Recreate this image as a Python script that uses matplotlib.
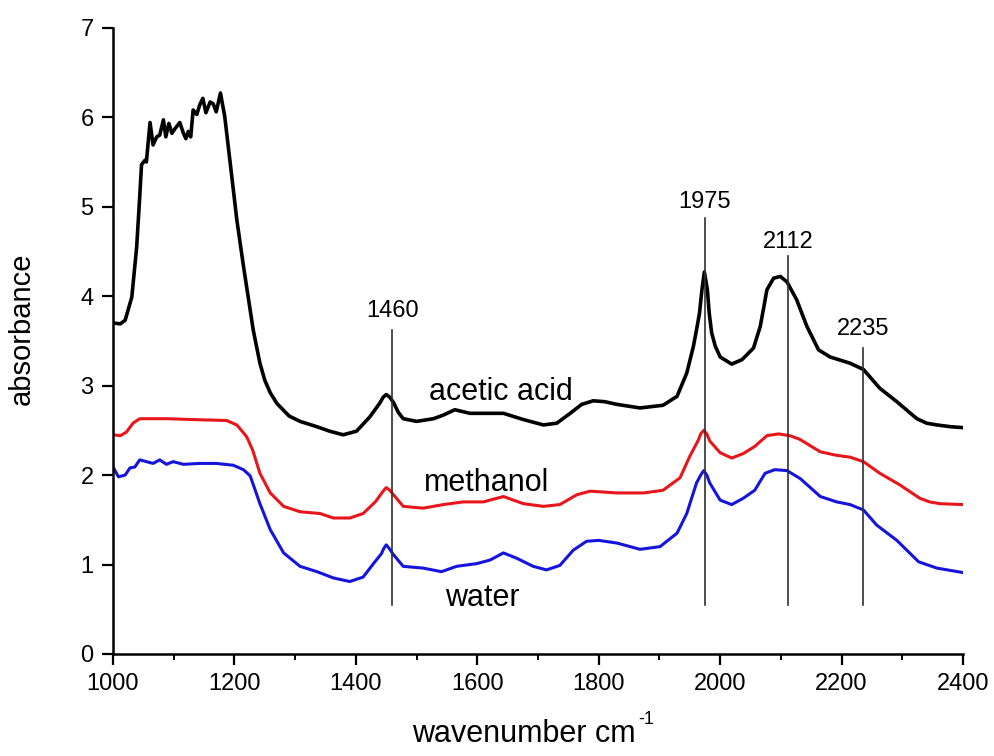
import matplotlib
matplotlib.use("Agg")
import matplotlib.pyplot as plt
from matplotlib.ticker import MultipleLocator

plt.rcParams['font.family'] = ['Liberation Sans', 'DejaVu Sans']

# IR spectra (wavenumber in cm^-1, absorbance)
acetic_wn = [1000, 1012, 1020, 1031, 1039, 1044, 1047, 1053, 1055, 1061, 1066, 1072, 1077,
             1083, 1087, 1092, 1097, 1102, 1110, 1116, 1120, 1124, 1128, 1132, 1138, 1143,
             1148, 1153, 1160, 1165, 1170, 1177, 1184, 1193, 1204, 1215, 1231, 1242, 1250,
             1259, 1270, 1280, 1290, 1308, 1336, 1357, 1379, 1401, 1423, 1440, 1445, 1450,
             1456, 1462, 1470, 1478, 1500, 1528, 1544, 1563, 1588, 1621, 1643, 1676, 1709,
             1731, 1753, 1772, 1791, 1810, 1830, 1868, 1906, 1929, 1945, 1956, 1961, 1966,
             1970, 1974, 1979, 1982, 1986, 1992, 2000, 2019, 2036, 2055, 2066, 2072, 2077,
             2088, 2099, 2110, 2126, 2143, 2162, 2181, 2214, 2236, 2263, 2291, 2324, 2340,
             2357, 2380, 2400]
acetic_abs = [3.70, 3.69, 3.73, 3.99, 4.55, 5.11, 5.47, 5.52, 5.50, 5.94, 5.69, 5.78, 5.80,
              5.97, 5.78, 5.93, 5.82, 5.87, 5.94, 5.82, 5.76, 5.84, 5.78, 6.08, 6.03, 6.14,
              6.21, 6.05, 6.17, 6.15, 6.06, 6.27, 6.01, 5.49, 4.85, 4.33, 3.62, 3.25, 3.06,
              2.92, 2.80, 2.73, 2.66, 2.60, 2.54, 2.49, 2.45, 2.49, 2.65, 2.81, 2.87, 2.90,
              2.87, 2.81, 2.70, 2.63, 2.60, 2.63, 2.67, 2.73, 2.69, 2.69, 2.69, 2.62, 2.56,
              2.58, 2.69, 2.79, 2.83, 2.82, 2.79, 2.75, 2.78, 2.88, 3.14, 3.44, 3.62, 3.81,
              4.07, 4.27, 4.07, 3.81, 3.59, 3.44, 3.32, 3.24, 3.29, 3.42, 3.66, 3.88, 4.07,
              4.20, 4.22, 4.16, 3.96, 3.66, 3.40, 3.32, 3.25, 3.18, 2.97, 2.82, 2.63, 2.58,
              2.56, 2.54, 2.53]

methanol_wn = [1000, 1012, 1022, 1033, 1044, 1088, 1132, 1187, 1204, 1220, 1230, 1242, 1259,
               1281, 1308, 1341, 1363, 1390, 1412, 1432, 1445, 1450, 1456, 1462, 1478, 1511,
               1544, 1577, 1610, 1643, 1676, 1709, 1736, 1764, 1786, 1830, 1874, 1906, 1934,
               1950, 1964, 1968, 1973, 1978, 1983, 2000, 2019, 2038, 2057, 2077, 2096, 2115,
               2131, 2165, 2192, 2214, 2236, 2263, 2296, 2329, 2345, 2362, 2400]
methanol_abs = [2.45, 2.44, 2.48, 2.58, 2.63, 2.63, 2.62, 2.61, 2.56, 2.43, 2.28, 2.02, 1.80,
                1.65, 1.59, 1.57, 1.52, 1.52, 1.57, 1.70, 1.82, 1.86, 1.83, 1.78, 1.65, 1.63,
                1.67, 1.70, 1.70, 1.76, 1.68, 1.65, 1.67, 1.78, 1.82, 1.80, 1.80, 1.83, 1.97,
                2.21, 2.39, 2.46, 2.50, 2.46, 2.38, 2.25, 2.19, 2.24, 2.32, 2.44, 2.46, 2.44,
                2.40, 2.26, 2.22, 2.20, 2.15, 2.02, 1.89, 1.74, 1.70, 1.68, 1.67]

water_wn = [1000, 1009, 1020, 1028, 1036, 1044, 1055, 1066, 1077, 1088, 1099, 1116, 1143,
            1170, 1198, 1215, 1226, 1242, 1259, 1281, 1308, 1336, 1363, 1390, 1412, 1429,
            1442, 1446, 1450, 1455, 1462, 1478, 1511, 1541, 1566, 1599, 1621, 1643, 1665,
            1692, 1714, 1736, 1758, 1780, 1800, 1830, 1868, 1901, 1929, 1945, 1961, 1968,
            1973, 1978, 1983, 2000, 2019, 2038, 2057, 2074, 2090, 2110, 2132, 2165, 2192,
            2214, 2236, 2258, 2291, 2327, 2357, 2400]
water_abs = [2.09, 1.98, 2.00, 2.08, 2.09, 2.17, 2.15, 2.13, 2.17, 2.12, 2.15, 2.12, 2.13,
             2.13, 2.11, 2.06, 1.99, 1.68, 1.39, 1.13, 0.98, 0.92, 0.85, 0.81, 0.86, 1.01,
             1.12, 1.18, 1.22, 1.18, 1.11, 0.98, 0.96, 0.92, 0.98, 1.01, 1.05, 1.13, 1.07,
             0.98, 0.94, 0.99, 1.16, 1.26, 1.27, 1.24, 1.17, 1.20, 1.35, 1.57, 1.91, 2.00,
             2.05, 2.00, 1.91, 1.72, 1.67, 1.74, 1.83, 2.02, 2.06, 2.05, 1.96, 1.76, 1.70,
             1.67, 1.61, 1.44, 1.27, 1.03, 0.96, 0.91]

# Marked band positions and the vertical extent of their marker lines
peak_wn = [1460, 1975, 2112, 2235]
peak_top = [3.62, 4.87, 4.45, 3.42]
peak_bottom = 0.55
peak_label_y = [3.83, 5.05, 4.60, 3.63]

series_names = ['acetic acid', 'methanol', 'water']
series_label_pos = [(1639, 2.93), (1616, 1.91), (1609, 0.63)]

fig = plt.figure(figsize=(9.95, 7.56), dpi=100)
ax = fig.add_axes([113 / 995, 1 - 654 / 756, 850 / 995, (654 - 27.7) / 756])

line_kw = dict(solid_joinstyle='round', solid_capstyle='round')
ax.plot(acetic_wn, acetic_abs, color='black', lw=2.6, **line_kw)
ax.plot(methanol_wn, methanol_abs, color='#e8161b', lw=2.2, **line_kw)
ax.plot(water_wn, water_abs, color='#1414dc', lw=2.2, **line_kw)

for wn, top, ly in zip(peak_wn, peak_top, peak_label_y):
    ax.plot([wn, wn], [peak_bottom, top], color='#303030', lw=1.2)
    ax.text(wn, ly, str(wn), ha='center', va='center', fontsize=17)

for name, (x, y) in zip(series_names, series_label_pos):
    ax.text(x, y, name, ha='center', va='center', fontsize=22)

ax.set_xlim(1000, 2400)
ax.set_ylim(0, 7)
ax.xaxis.set_major_locator(MultipleLocator(200))
ax.xaxis.set_minor_locator(MultipleLocator(100))
ax.yaxis.set_major_locator(MultipleLocator(1))

for side in ('top', 'right'):
    ax.spines[side].set_visible(False)
for side in ('left', 'bottom'):
    ax.spines[side].set_linewidth(1.8)

ax.tick_params(axis='both', which='major', direction='out', length=8, width=1.6,
               labelsize=17, pad=6)
ax.tick_params(axis='x', which='minor', direction='out', length=4.5, width=1.4)

fig.text(22 / 995, 1 - 329 / 756, 'absorbance', rotation=90, ha='center', va='center',
         fontsize=21)
# x label with a small raised "-1" exponent placed right after "cm"
xlab = fig.text(412 / 995, 1 - 742 / 756, 'wavenumber cm', ha='left', va='baseline',
                fontsize=22)
fig.canvas.draw()
ax.annotate('-1', xy=(1, 1), xycoords=xlab, xytext=(2, 6), textcoords='offset points',
            ha='left', va='top', fontsize=13, annotation_clip=False)

fig.savefig('out.png', dpi=100)
